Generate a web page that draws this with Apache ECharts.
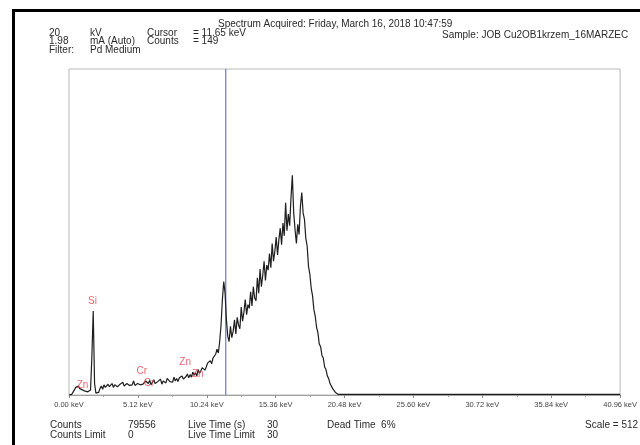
<!DOCTYPE html>
<html>
<head>
<meta charset="utf-8">
<script src="https://cdn.jsdelivr.net/npm/echarts@6/dist/echarts.min.js"></script>
<style>
  html, body { margin: 0; padding: 0; background: #fff; }
  #chart { width: 640px; height: 445px; }
</style>
</head>
<body>
<div id="chart"></div>
<script>
// channel width of the spectrum (keV)
const channelStep = 0.1;

// counts per channel (channel 0 = 0.0 keV)
const spectrumCounts = [
  0, 0, 1, 3, 8, 12, 9, 14, 10, 13,
  8, 11, 6, 7, 5, 6, 8, 60, 132, 18,
  3, 2, 4, 10, 14, 9, 16, 12, 11, 17,
  13, 15, 18, 12, 16, 19, 13, 14, 17, 15,
  20, 14, 13, 18, 21, 15, 17, 16, 22, 15,
  14, 18, 21, 16, 19, 17, 15, 22, 19, 18,
  23, 16, 20, 24, 18, 17, 21, 19, 25, 17,
  22, 20, 19, 26, 23, 21, 24, 20, 28, 22,
  26, 21, 27, 24, 30, 25, 23, 29, 33, 27,
  32, 28, 36, 31, 35, 30, 40, 34, 38, 43,
  46, 39, 44, 50, 47, 54, 49, 58, 55, 64,
  72, 66, 84, 110, 150, 178, 160, 118, 92, 84,
  108, 90, 100, 118, 96, 122, 110, 104, 138, 116,
  130, 150, 126, 142, 136, 162, 140, 170, 152, 148,
  184, 160, 198, 170, 188, 210, 180, 204, 196, 222,
  200, 238, 210, 226, 248, 220, 244, 262, 236, 270,
  250, 302, 258, 284, 266, 310, 345, 286, 260, 238,
  268, 252, 296, 318, 286, 276, 246, 234, 202, 190,
  168, 156, 134, 124, 106, 98, 80, 76, 62, 58,
  44, 40, 30, 26, 18, 16, 10, 7, 4, 2,
  1, 1
];

// flat tail after the cut-off
const tailEnergy = [20.2, 40.96];
const tailCounts = [1, 1];

// peak identification labels
const peakNames = ["Zn", "Si", "Cr", "Cr", "Zn", "Zn"];
const peakEnergy = [1.01, 1.74, 5.41, 5.95, 8.63, 9.57];
const peakLabelCounts = [16, 148, 38, 19, 52, 33];

// cursor marker
const cursorEnergy = [11.65, 11.65];
const cursorCounts = [0, 512];

// x axis
const axisMax = 40.96;
const axisStep = 5.12;

let spectrumData = spectrumCounts.map((c, i) => [+(i * channelStep).toFixed(2), c]);
for (let i = 0; i < tailEnergy.length; i++) {
  spectrumData.push([tailEnergy[i], tailCounts[i]]);
}

let labelData = peakNames.map((n, i) => ({ name: n, value: [peakEnergy[i], peakLabelCounts[i]] }));
let cursorData = cursorEnergy.map((e, i) => [e, cursorCounts[i]]);

const font = "Liberation Sans, Arial, sans-serif";
const textColor = "#2a2a2a";

function txt(x, y, s) {
  return {
    type: "text",
    x: x,
    y: y,
    style: { text: s, fill: textColor, font: "10px " + font, textVerticalAlign: "middle" },
    silent: true
  };
}

var dom = document.getElementById("chart");
var myChart = echarts.init(dom, null, { renderer: "canvas" });

var option = {
  animation: false,
  backgroundColor: "#fff",
  grid: {
    left: 69, right: 17, top: 69, bottom: 50,
    show: true, borderColor: "#b9b9b9", borderWidth: 1
  },
  xAxis: {
    type: "value",
    min: 0,
    max: axisMax,
    interval: axisStep,
    axisLine: { show: true, lineStyle: { color: "#a0a0a0", width: 1 } },
    axisTick: { show: true, length: 3, lineStyle: { color: "#888" } },
    minorTick: { show: true, splitNumber: 2, length: 2, lineStyle: { color: "#999" } },
    splitLine: { show: false },
    axisLabel: {
      color: "#444",
      fontSize: 7.5,
      fontFamily: font,
      margin: 6,
      formatter: v => v.toFixed(2) + " keV"
    }
  },
  yAxis: {
    type: "value",
    min: 0,
    max: 512,
    show: false,
    splitLine: { show: false }
  },
  series: [
    {
      type: "line",
      data: cursorData,
      showSymbol: false,
      silent: true,
      lineStyle: { color: "#6f6fe0", width: 1.2 },
      z: 2
    },
    {
      type: "line",
      data: spectrumData,
      showSymbol: false,
      lineStyle: { color: "#1e1e1e", width: 1.2 },
      z: 3
    },
    {
      type: "scatter",
      data: labelData,
      symbolSize: 0,
      z: 4,
      label: {
        show: true,
        position: "inside",
        formatter: p => p.name,
        color: "#e5404d",
        fontSize: 10,
        fontFamily: font
      }
    }
  ],
  graphic: [
    // outer frame
    { type: "rect", shape: { x: 12, y: 9, width: 640, height: 3 }, style: { fill: "#000" }, silent: true },
    { type: "rect", shape: { x: 12, y: 9, width: 3, height: 440 }, style: { fill: "#000" }, silent: true },
    // header
    txt(218, 24.5, "Spectrum Acquired: Friday, March 16, 2018 10:47:59"),
    txt(442, 35.5, "Sample: JOB Cu2OB1krzem_16MARZEC"),
    txt(49, 33, "20"),
    txt(90, 33, "kV"),
    txt(147, 33, "Cursor"),
    txt(193, 33, "= 11.65 keV"),
    txt(49, 41.5, "1.98"),
    txt(90, 41.5, "mA (Auto)"),
    txt(147, 41.5, "Counts"),
    txt(193, 41.5, "= 149"),
    txt(49, 50, "Filter:"),
    txt(90, 50, "Pd Medium"),
    // footer
    txt(50, 425.5, "Counts"),
    txt(128, 425.5, "79556"),
    txt(188, 425.5, "Live Time (s)"),
    txt(267, 425.5, "30"),
    txt(50, 435.5, "Counts Limit"),
    txt(128, 435.5, "0"),
    txt(188, 435.5, "Live Time Limit"),
    txt(267, 435.5, "30"),
    txt(327, 425.5, "Dead Time  6%"),
    txt(585, 425.5, "Scale = 512")
  ]
};

if (option && typeof option === "object") {
  myChart.setOption(option);
}

window.addEventListener("resize", myChart.resize);
</script>
</body>
</html>
